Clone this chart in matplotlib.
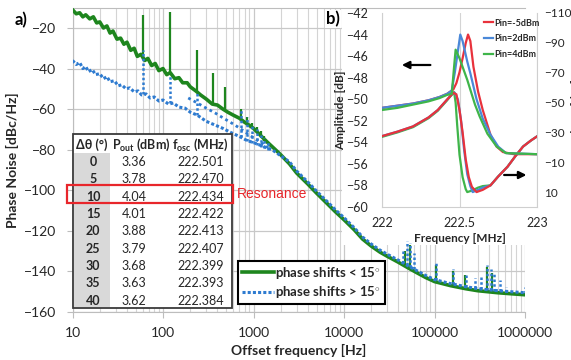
import numpy as np
import matplotlib
matplotlib.use('Agg')
import matplotlib.pyplot as plt
from matplotlib import transforms as mtransforms
from matplotlib.patches import Rectangle
from matplotlib.ticker import FixedLocator, FixedFormatter, LogLocator, NullFormatter

plt.rcParams['font.family'] = ['Lato', 'DejaVu Sans']
plt.rcParams['mathtext.fontset'] = 'custom'
plt.rcParams['mathtext.rm'] = 'Lato'
plt.rcParams['mathtext.bf'] = 'Lato:bold'
plt.rcParams['mathtext.it'] = 'Lato:italic'

# ---- panel a) phase noise ----
green_f = [10, 11, 12, 13, 14, 15.5, 17, 18.5, 20, 22, 24, 26, 28, 31, 34, 37, 40, 44, 48, 52, 57,
           63, 68, 75, 82, 90, 100, 110, 120, 135, 150, 165, 185, 200, 230, 260, 300, 350, 400, 460,
           520, 600, 700, 800, 900, 1000, 1200, 1400, 1700, 2000, 2500, 3000, 4000, 5000, 6500, 8000,
           10000, 13000, 16000, 20000, 25000, 30000, 40000, 50000, 63000, 80000, 100000, 150000,
           220000, 300000, 500000, 700000, 1000000]
green_db = [-11, -13, -12.5, -14.5, -13.5, -15.5, -14.5, -17.5, -17, -20, -19, -22.5, -21.5, -25.5,
            -25, -28, -27, -31, -30, -34, -33, -36, -35, -38.5, -37.5, -41, -40, -43, -42, -45, -44.5,
            -47, -47, -49, -51, -53, -55, -57.5, -58, -60, -61.5, -63, -64.5, -66.5, -68, -69.5, -73,
            -76, -79.5, -82.5, -87, -91.5, -97, -101.5, -106.5, -110.5, -114.5, -119.5, -124, -127.5,
            -130.5, -132.5, -135.5, -138, -140.5, -143, -145, -147, -148.5, -149.5, -150.5, -151, -151.5]

blue_f = [10, 11, 12, 13, 14, 15, 16.5, 18, 20, 22, 24, 26, 29, 32, 35, 39, 43, 48, 53, 58, 65, 72,
          80, 90, 100, 115, 130, 150, 175, 200, 240, 300, 360, 460, 560, 700, 850, 1000, 1300, 1600,
          2000, 2500, 3000, 4000, 5000, 6500, 8000, 10000, 13000, 16000, 20000, 25000, 30000, 40000,
          50000, 63000, 80000, 100000, 150000, 220000, 300000, 500000, 700000, 1000000]
blue_db = [-36, -38, -37, -40, -39, -41.5, -40.5, -43, -42.5, -45, -44, -46.5, -46, -48.5, -48, -50,
           -49.5, -51.5, -51, -53, -52.5, -54.5, -54, -56, -55.5, -57.5, -57, -59, -59.5, -61.5, -63,
           -66, -67.5, -69.5, -71.5, -73.5, -75.5, -76.5, -78.5, -80, -83, -86, -90.5, -96, -100.5,
           -105.5, -109.5, -113.5, -118.5, -123, -126.5, -129.5, -131.5, -134.5, -137, -139.5, -142,
           -144, -146, -147.5, -148.5, -149.5, -150, -150.5]

# second >15 deg trace that splits off the green one
blue2_f = [190, 240, 300, 380, 460, 580, 700, 850, 1070, 1300, 1500]
blue2_db = [-54.5, -57, -59.5, -62, -64.3, -67, -69.3, -72, -75, -77.5, -79.5]

green_spk_f = [60, 120, 240, 360, 480, 720, 840, 960, 1080, 1200, 1320,
               47000, 53000, 105000, 160000, 220000, 380000, 430000]
green_spk_top = [-13.5, -12, -31, -42, -49, -60, -64, -67, -69, -71, -73,
                 -130, -127, -137, -140, -142, -138, -141]
green_spk_base = [-36, -42, -52, -58, -60, -64.5, -67, -69, -71.5, -74, -75.5,
                  -137, -138.5, -145, -147, -148.5, -150, -150]

blue_spk_f = [60, 120, 240, 720, 840, 960, 1080, 1200, 1320, 1440,
              44600, 50000, 53000, 60000, 104000, 160000, 224000, 280000, 328000, 380000,
              420000, 450000, 524000, 615000, 1000000]
blue_spk_top = [-31, -43, -52, -60.4, -64, -68, -70, -72, -74, -76,
                -129, -125, -126, -131, -136, -139, -141.5, -143, -142.7, -136.7,
                -139, -140.7, -144, -147.6, -147.6]
blue_spk_base = [-52.5, -57, -63, -73.5, -75.5, -76.5, -77.5, -78.5, -79, -80,
                 -136, -137, -138, -139, -144, -146, -147.5, -148, -148.5, -149,
                 -149.3, -149.5, -149.5, -150, -150.5]

xtick_vals = [10, 100, 1000, 10000, 100000, 1000000]
xtick_labels = ['10', '100', '1000', '10000', '100000', '1000000']
ytick_vals = [-160, -140, -120, -100, -80, -60, -40, -20]

# table
tab_dtheta = [0, 5, 10, 15, 20, 25, 30, 35, 40]
tab_pout = [3.36, 3.78, 4.04, 4.01, 3.88, 3.79, 3.68, 3.63, 3.62]
tab_fosc = [222.501, 222.470, 222.434, 222.422, 222.413, 222.407, 222.399, 222.393, 222.384]

# ---- panel b) resonator response ----
amp_red_f = [222.0, 222.1, 222.2, 222.3, 222.37, 222.42, 222.46, 222.48, 222.5, 222.52, 222.54,
             222.555, 222.57, 222.59, 222.62, 222.65, 222.7, 222.74, 222.78, 222.85, 223.0]
amp_red = [-50.8, -50.6, -50.4, -50.1, -49.8, -49.5, -49.1, -48.5, -47.5, -46.2, -44.8,
           -44.0, -44.6, -47.0, -49.3, -51.0, -53.3, -54.4, -54.9, -55.1, -55.1]
amp_blue_f = [222.0, 222.1, 222.2, 222.3, 222.37, 222.42, 222.45, 222.47, 222.49, 222.505,
              222.52, 222.55, 222.57, 222.61, 222.65, 222.7, 222.75, 222.8, 223.0]
amp_blue = [-50.8, -50.6, -50.4, -50.1, -49.8, -49.5, -49.2, -47.5, -45.5, -44.0,
            -44.6, -46.5, -47.6, -50.0, -51.8, -53.3, -54.4, -55.0, -55.1]
amp_green_f = [222.0, 222.1, 222.2, 222.3, 222.37, 222.42, 222.45, 222.465, 222.475, 222.5,
               222.55, 222.6, 222.63, 222.68, 222.74, 222.8, 223.0]
amp_green = [-51.0, -50.8, -50.5, -50.2, -49.9, -49.6, -49.5, -47.0, -45.4, -46.2,
             -48.2, -50.5, -51.6, -53.2, -54.4, -55.0, -55.1]

ph_red_f = [222.0, 222.1, 222.2, 222.3, 222.36, 222.42, 222.46, 222.48, 222.5, 222.52, 222.54,
            222.56, 222.58, 222.61, 222.65, 222.7, 222.75, 222.81, 222.86, 222.91, 222.96, 223.0]
ph_red = [-27.5, -30.5, -34, -40, -45, -52, -56.5, -55.5, -45, -30, -12,
          0, 6.5, 10, 8.5, 5.5, -0.5, -7, -14, -20.5, -24.5, -27.3]
ph_blue_f = [222.0, 222.1, 222.2, 222.3, 222.36, 222.42, 222.46, 222.47, 222.49, 222.51, 222.53,
             222.55, 222.57, 222.585, 222.62, 222.65, 222.7, 222.75, 222.81, 222.86, 222.91,
             222.96, 223.0]
ph_blue = [-27.5, -30.5, -34, -40, -45, -52, -56.5, -56.5, -52, -38, -18,
           -2, 6, 10, 8.5, 7, 5.5, -0.5, -7, -14, -20.5, -24.5, -27.3]
ph_green_f = [222.0, 222.1, 222.2, 222.3, 222.36, 222.42, 222.44, 222.465, 222.475, 222.485,
              222.5, 222.52, 222.54, 222.55, 222.58, 222.62, 222.65, 222.7, 222.75, 222.81,
              222.86, 222.91, 222.96, 223.0]
ph_green = [-27, -30, -33.5, -39.5, -44.5, -51.5, -54, -57, -50, -35,
            -15, 0, 8, 10, 9, 7, 6, 5.5, -0.5, -7, -14, -20.5, -24.5, -27.3]

amp_ticks = [-60, -58, -56, -54, -52, -50, -48, -46, -44, -42]
ph_ticks = [-110, -90, -70, -50, -30, -10, 10]
pin_labels = ['Pin=-5dBm', 'Pin=2dBm', 'Pin=4dBm']

W, H = 571, 360
fig = plt.figure(figsize=(W / 100, H / 100), dpi=100)
px = mtransforms.Affine2D().scale(1 / W, -1 / H).translate(0, 1) + fig.transFigure

GREEN = '#1e861e'
BLUE = '#2e7bd0'
GRID = '#d4d4d4'
TXT = '#262626'

ax = fig.add_axes([72.5 / W, 1 - 312 / H, (525 - 72.5) / W, (312 - 7.7) / H])
ax.set_xscale('log')
ax.set_xlim(10, 1000000)
ax.set_ylim(-160, -10)
ax.set_axisbelow(True)
ax.xaxis.set_major_locator(FixedLocator(xtick_vals))
ax.xaxis.set_major_formatter(FixedFormatter(xtick_labels))
ax.xaxis.set_minor_locator(LogLocator(base=10, subs=np.arange(2, 10)))
ax.xaxis.set_minor_formatter(NullFormatter())
ax.set_yticks(ytick_vals)
ax.grid(True, which='major', color='#c8c8c8', lw=0.9)
ax.grid(True, which='minor', axis='x', color=GRID, lw=0.8)
for s in ['top', 'left', 'bottom']:
    ax.spines[s].set_color('#bdbdbd')
ax.spines['right'].set_visible(False)
ax.tick_params(which='major', length=4, color='#bdbdbd', labelsize=10, labelcolor=TXT)
ax.tick_params(axis='y', pad=8)
ax.tick_params(axis='x', pad=7)
ax.tick_params(which='minor', length=0)
ax.set_ylabel('Phase Noise [dBc/Hz]', fontsize=10, fontweight='bold', color=TXT)
ax.yaxis.set_label_coords(-0.118, 0.5)
ax.set_xlabel('Offset frequency [Hz]', fontsize=10, fontweight='bold', color=TXT)
ax.xaxis.set_label_coords(0.5, -0.105)

# white background of inset b) (curves still run over its lower left)
ax.add_patch(Rectangle((342, 9), W - 342, 236, transform=px, facecolor='white',
                       edgecolor='none', zorder=1, clip_on=False))

ax.vlines(green_spk_f, green_spk_base, green_spk_top, color=GREEN, lw=1.6, zorder=2)
ax.plot(green_f, green_db, color=GREEN, lw=2.6, zorder=3, label='phase shifts < 15$^{\\circ}$')
ax.vlines(blue_spk_f, blue_spk_base, blue_spk_top, color=BLUE, lw=1.8,
          linestyles=[(0, (1, 0.9))], zorder=4)
ax.plot(blue2_f, blue2_db, color=BLUE, lw=2.0, ls=(0, (1, 1.2)), zorder=4)
ax.plot(blue_f, blue_db, color=BLUE, lw=2.2, ls=(0, (1, 0.7)), zorder=4,
        label='phase shifts > 15$^{\\circ}$')

leg = ax.legend(loc='upper left', bbox_to_anchor=(238 / W, 1 - 261 / H),
                bbox_transform=fig.transFigure, borderaxespad=0, fancybox=False,
                edgecolor='black', framealpha=1, handlelength=2.4, handletextpad=0.1,
                borderpad=0.3, labelspacing=0.25, prop={'weight': 'bold', 'size': 9.5})
leg.get_frame().set_linewidth(1.5)
for t in leg.get_texts():
    t.set_color(TXT)

fig.text(21, 20, 'a)', transform=px, fontsize=12, fontweight='bold', ha='center', va='center')

# table of oscillator states
fig.patches.append(Rectangle((73, 134), 159, 174, transform=px, facecolor='white',
                             edgecolor='#3a3a3a', lw=1.3, zorder=1))
fig.patches.append(Rectangle((74, 153), 36, 154, transform=px, facecolor='#d9d9d9',
                             edgecolor='none', zorder=1.1))
hdr_kw = dict(transform=px, fontsize=9, fontweight='bold', va='center', color=TXT)
fig.text(92, 145, 'Δθ (°)', ha='center', **hdr_kw)
fig.text(141, 145, r'P$_{\mathbf{out}}$ (dBm)', ha='center', **hdr_kw)
fig.text(200, 145, r'f$_{\mathbf{osc}}$ (MHz)', ha='center', **hdr_kw)
for i in range(len(tab_dtheta)):
    yy = 162 + 17.35 * i
    fig.text(93, yy, str(tab_dtheta[i]), transform=px, fontsize=9, fontweight='bold',
             ha='center', va='center', color=TXT)
    fig.text(134, yy, '%.2f' % tab_pout[i], transform=px, fontsize=9, ha='center',
             va='center', color=TXT)
    fig.text(224, yy, '%.3f' % tab_fosc[i], transform=px, fontsize=9, ha='right',
             va='center', color=TXT)
fig.patches.append(Rectangle((67, 185), 166, 18, transform=px, facecolor='none',
                             edgecolor='#e8262b', lw=1.6, zorder=2))
fig.text(237, 194, 'Resonance', transform=px, fontsize=10, color='#e8262b',
         family='Liberation Sans', va='center', ha='left')
fig.text(333, 19, 'b)', transform=px, fontsize=12, fontweight='bold', ha='center',
         va='center', bbox=dict(facecolor='white', edgecolor='none', pad=1))

# ---- inset b) ----
RED_B = '#e8323c'
BLUE_B = '#4a88d8'
GREEN_B = '#3fb54a'
axb = fig.add_axes([382 / W, 1 - 207 / H, 155 / W, 194 / H])
axb.patch.set_alpha(0)
axb.set_xlim(222, 223)
axb.set_ylim(-60, -42)
axb.set_xticks([222, 222.5, 223])
axb.set_xticklabels(['222', '222.5', '223'])
axb.set_yticks(amp_ticks)
axb.grid(True, axis='x', color=GRID, lw=0.8)
axb.tick_params(length=0, labelsize=9, labelcolor=TXT)
axb.tick_params(axis='y', pad=10)
axb.tick_params(axis='x', pad=7)
for s in ['left', 'bottom', 'right']:
    axb.spines[s].set_color('#cfcfcf')
axb.spines['top'].set_visible(False)
axb.set_ylabel('Amplitude [dB]', fontsize=8.5, fontweight='bold', color=TXT)
axb.yaxis.set_label_coords(-0.232, 0.5)
axb.set_xlabel('Frequency [MHz]', fontsize=8.5, fontweight='bold', color=TXT)
axb.xaxis.set_label_coords(0.5, -0.135)

axp = axb.twinx()
axp.set_ylim(20, -110)
axp.set_yticks(ph_ticks)
axp.tick_params(length=0, labelsize=8.5, labelcolor=TXT, pad=5)
for s in ['left', 'bottom', 'right', 'top']:
    axp.spines[s].set_visible(False)
axp.set_ylabel('Phase [deg]', fontsize=8.5, fontweight='bold', color=TXT, rotation=90)
axp.yaxis.set_label_coords(1.22, 0.5)

axp.plot(ph_green_f, ph_green, color=GREEN_B, lw=1.6)
axp.plot(ph_blue_f, ph_blue, color=BLUE_B, lw=1.6)
axp.plot(ph_red_f, ph_red, color=RED_B, lw=1.6)
l1, = axp.plot(amp_red_f, amp_red, color=RED_B, lw=1.6, transform=axb.transData)
l2, = axp.plot(amp_blue_f, amp_blue, color=BLUE_B, lw=1.6, transform=axb.transData)
l3, = axp.plot(amp_green_f, amp_green, color=GREEN_B, lw=1.6, transform=axb.transData)
lg = axp.legend([l1, l2, l3], pin_labels, loc='upper right', bbox_to_anchor=(1.04, 0.99),
                frameon=False, handlelength=1.0, handletextpad=0.15, labelspacing=0.75,
                borderaxespad=0, prop={'weight': 'bold', 'size': 6.5})
for t in lg.get_texts():
    t.set_color(TXT)

axb.annotate('', xy=(0.11, 0.732), xytext=(0.33, 0.732), xycoords='axes fraction',
             arrowprops=dict(arrowstyle='-|>', color='black', lw=1.6, mutation_scale=11))
axb.annotate('', xy=(0.95, 0.165), xytext=(0.77, 0.165), xycoords='axes fraction',
             arrowprops=dict(arrowstyle='-|>', color='black', lw=1.6, mutation_scale=11))

fig.savefig('out.png', dpi=100)
